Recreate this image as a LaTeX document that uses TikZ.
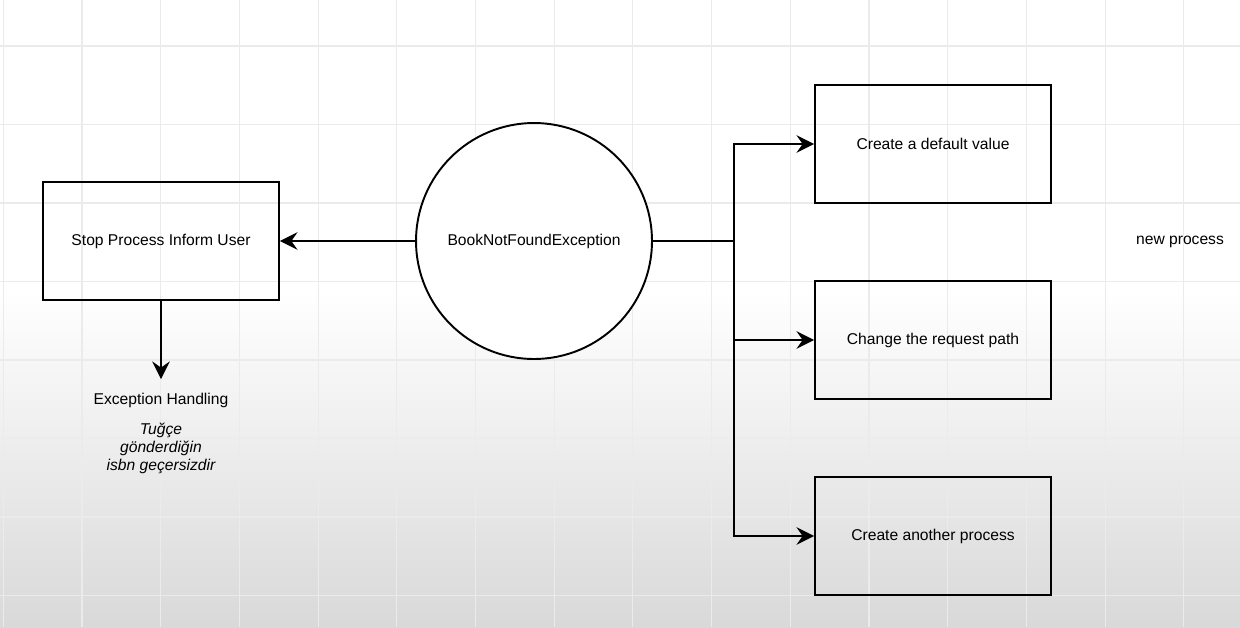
\documentclass[tikz,border=0pt]{standalone}
\usepackage{fontspec}
\setmainfont{Liberation Sans}
\usetikzlibrary{arrows.meta}
\begin{document}
\begin{tikzpicture}[x=0.02cm,y=-0.02cm,
  every node/.style={font=\fontsize{8.9}{10.6}\selectfont},
  box/.style={draw, line width=1.1pt, minimum width=4.72cm, minimum height=2.36cm, inner sep=0pt},
  bubble/.style={draw, circle, fill=white, line width=1.1pt, minimum size=4.72cm, inner sep=0pt},
  conn/.style={line width=1.1pt, -{Stealth[length=10pt,width=10pt,inset=3.5pt]}},
  plain/.style={line width=1.1pt},
  gridline/.style={draw=black!8, line width=0.6pt}]
  % canvas with soft darkening toward the bottom
  \fill[white] (0,0) rectangle (1240,627);
  \shade[top color=white, bottom color=black!15] (0,290) rectangle (1240,627);
  \useasboundingbox (0,0) rectangle (1240,627);
  % page grid
  \foreach \k in {0,...,15} \draw[gridline] ({3.3+78.7*\k},0) -- ({3.3+78.7*\k},627);
  \foreach \k in {0,...,7} \draw[gridline] (0,{46+78.5*\k}) -- (1240,{46+78.5*\k});

  % nodes
  \node[box] (stop) at (161,241) {Stop Process Inform User};
  \node[bubble] (exc) at (534,241) {BookNotFoundException};
  \node[box] (b1) at (933,144) {Create a default value};
  \node[box] (b2) at (933,340) {Change the request path};
  \node[box] (b3) at (933,536) {Create another process};
  \node (eh) at (161,400) {Exception Handling};
  \node[align=center, font=\fontsize{8.9}{10.3}\selectfont\itshape] (msg) at (161,448)
    {Tuğçe\\gönderdiğin\\isbn geçersizdir};
  \node (np) at (1180,242) {new process};

  % connectors
  \coordinate (fork) at (734,241);
  \coordinate (ehtop) at (161,379);
  \draw[conn] (exc.west) -- (stop.east);
  \draw[conn] (stop.south) -- (ehtop);
  \draw[plain] (exc.east) -- (fork);
  \draw[conn] (fork) |- (b1.west);
  \draw[conn] (fork) |- (b2.west);
  \draw[conn] (fork) |- (b3.west);
\end{tikzpicture}
\end{document}
